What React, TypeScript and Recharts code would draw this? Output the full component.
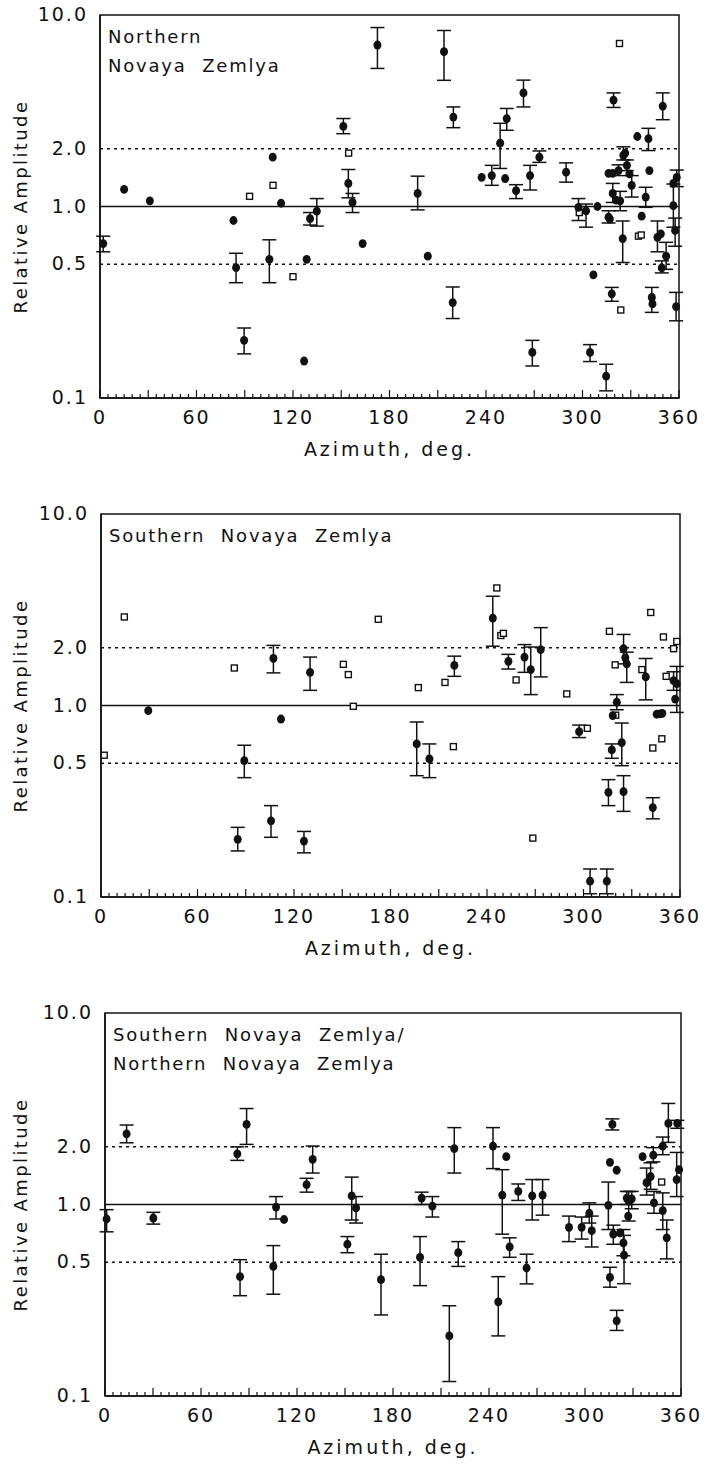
import React from "react";
import {
  ScatterChart,
  Scatter,
  XAxis,
  YAxis,
  ErrorBar,
  ReferenceLine,
  ReferenceArea,
} from "recharts";

// [azimuth, amplitude, lower, upper]
type ErrPoint = [number, number, number, number];
type Point = [number, number];

const AZ_TICKS = Array.from({ length: 73 }, (_, i) => i * 5);
const AMP_TICKS = [0.1, 0.5, 1, 2, 10];

// ---- Northern Novaya Zemlya ----
const northErr: ErrPoint[] = [
  [2, 0.64, 0.58, 0.7],
  [84.6, 0.48, 0.4, 0.57],
  [89.6, 0.2, 0.17, 0.232],
  [105.3, 0.53, 0.4, 0.67],
  [130.6, 0.865, 0.8, 0.93],
  [134.8, 0.945, 0.79, 1.1],
  [151.3, 2.62, 2.4, 2.88],
  [154.4, 1.32, 1.11, 1.56],
  [157, 1.05, 0.93, 1.17],
  [172.5, 6.97, 5.26, 8.6],
  [197.5, 1.17, 0.96, 1.44],
  [213.9, 6.43, 4.56, 8.3],
  [219.7, 2.93, 2.58, 3.31],
  [219.3, 0.315, 0.26, 0.38],
  [243.6, 1.45, 1.29, 1.64],
  [248.8, 2.14, 1.58, 2.72],
  [252.9, 2.88, 2.5, 3.25],
  [258.7, 1.21, 1.1, 1.3],
  [263.3, 3.92, 3.31, 4.57],
  [267.4, 1.45, 1.22, 1.64],
  [273.2, 1.81, 1.7, 1.95],
  [268.8, 0.173, 0.147, 0.2],
  [289.8, 1.51, 1.34, 1.69],
  [297.5, 0.99, 0.845, 1.1],
  [302.2, 0.95, 0.78, 1.03],
  [304.7, 0.173, 0.155, 0.19],
  [314.7, 0.13, 0.109, 0.15],
  [316.2, 0.88, 0.82, 0.95],
  [318.2, 0.35, 0.32, 0.378],
  [319.3, 3.59, 3.29, 3.92],
  [318.8, 1.17, 1.05, 1.32],
  [323.4, 1.07, 0.95, 1.2],
  [322.4, 1.54, 1.45, 1.65],
  [325, 0.68, 0.51, 0.84],
  [325.4, 1.85, 1.75, 2.05],
  [327.6, 1.64, 1.54, 1.75],
  [330.6, 1.29, 1.12, 1.45],
  [339.3, 1.12, 0.99, 1.26],
  [341, 2.26, 1.96, 2.56],
  [343.1, 0.335, 0.28, 0.378],
  [346.6, 0.69, 0.58, 0.84],
  [349.9, 3.34, 2.84, 3.92],
  [349.3, 0.478, 0.45, 0.52],
  [352, 0.55, 0.47, 0.65],
  [358.6, 1.42, 1.27, 1.55],
  [356.5, 1.01, 0.78, 1.31],
  [357.6, 0.75, 0.62, 0.87],
  [358.2, 0.3, 0.253, 0.356],
];
const northDots: Point[] = [
  [15, 1.23], [31, 1.07], [83, 0.845], [107.4, 1.81], [112.6, 1.04],
  [126.9, 0.156], [128.5, 0.53], [163.3, 0.64], [203.8, 0.55], [237.3, 1.42],
  [251.9, 1.4], [309.3, 1.0], [306.8, 0.44], [316.2, 1.49], [318.8, 1.49],
  [320.9, 1.08], [317, 0.86], [326.5, 1.9], [329.2, 1.48], [334.1, 2.32],
  [336.8, 0.89], [341.6, 1.54], [343.5, 0.31], [348.7, 0.72], [356.5, 1.32],
];
const northOpen: Point[] = [
  [93, 1.13], [107.6, 1.29], [120, 0.43], [154.6, 1.9], [298, 0.93],
  [323, 7.1], [323.8, 0.288], [334.8, 0.7], [336.5, 0.71],
];

// ---- Southern Novaya Zemlya ----
const southErr: ErrPoint[] = [
  [85, 0.2, 0.174, 0.231],
  [89.1, 0.515, 0.42, 0.62],
  [105.7, 0.25, 0.205, 0.3],
  [107.2, 1.76, 1.48, 2.06],
  [126.2, 0.196, 0.17, 0.22],
  [130, 1.49, 1.2, 1.79],
  [196.3, 0.63, 0.43, 0.82],
  [204.2, 0.526, 0.42, 0.63],
  [219.7, 1.62, 1.42, 1.81],
  [243.6, 2.86, 2.04, 3.72],
  [253.3, 1.7, 1.55, 1.85],
  [263.3, 1.79, 1.49, 2.08],
  [267.2, 1.54, 1.14, 2.02],
  [273.4, 1.96, 1.41, 2.55],
  [297.3, 0.73, 0.68, 0.79],
  [304.1, 0.121, 0.104, 0.14],
  [314.5, 0.121, 0.104, 0.14],
  [315.5, 0.352, 0.3, 0.41],
  [317.6, 0.586, 0.53, 0.63],
  [320.7, 1.04, 0.95, 1.14],
  [324.9, 1.98, 1.65, 2.35],
  [326.9, 1.65, 1.32, 1.9],
  [323.8, 0.64, 0.485, 0.81],
  [324.9, 0.355, 0.28, 0.43],
  [338.7, 1.41, 1.07, 1.76],
  [343.1, 0.293, 0.256, 0.33],
  [358, 1.3, 0.92, 1.6],
  [356, 1.35, 1.2, 1.5],
];
const southDots: Point[] = [
  [29.4, 0.94], [111.9, 0.85], [318.2, 0.886], [326, 1.78],
  [345.5, 0.9], [347.6, 0.905], [349, 0.91], [357, 1.08],
];
const southOpen: Point[] = [
  [2, 0.55], [14.5, 2.9], [82.9, 1.57], [150.7, 1.64], [153.8, 1.45],
  [156.9, 0.99], [172.4, 2.82], [197.3, 1.24], [213.9, 1.32], [219.1, 0.61],
  [246.1, 4.11], [248.6, 2.32], [250.2, 2.38], [258.1, 1.36], [268.5, 0.203],
  [289.6, 1.15], [302.4, 0.76], [316.1, 2.44], [319.7, 1.63], [320, 0.89],
  [336.3, 1.54], [341.8, 3.06], [343.1, 0.6], [348.7, 0.67], [349.7, 2.28],
  [351.4, 1.42], [356, 1.98], [358, 2.16],
];

// ---- Southern / Northern ratio ----
const ratioErr: ErrPoint[] = [
  [1, 0.84, 0.72, 0.94],
  [13.5, 2.34, 2.1, 2.6],
  [30.2, 0.85, 0.79, 0.91],
  [82.7, 1.84, 1.7, 2.0],
  [88.5, 2.62, 2.06, 3.17],
  [84.4, 0.42, 0.334, 0.515],
  [106.9, 0.97, 0.84, 1.1],
  [105.2, 0.475, 0.34, 0.61],
  [126, 1.27, 1.16, 1.37],
  [129.8, 1.72, 1.46, 2.02],
  [151.5, 0.62, 0.56, 0.68],
  [154.2, 1.11, 0.83, 1.39],
  [156.9, 0.96, 0.8, 1.1],
  [172.5, 0.405, 0.265, 0.55],
  [197.9, 1.08, 1.0, 1.16],
  [196.9, 0.53, 0.377, 0.68],
  [204.6, 0.98, 0.86, 1.1],
  [215.2, 0.206, 0.119, 0.296],
  [218.3, 1.96, 1.46, 2.52],
  [220.8, 0.56, 0.475, 0.64],
  [242.5, 2.02, 1.54, 2.52],
  [245.8, 0.31, 0.206, 0.42],
  [248.3, 1.12, 0.7, 1.52],
  [252.9, 0.6, 0.53, 0.67],
  [258.3, 1.17, 1.05, 1.28],
  [263.5, 0.466, 0.385, 0.55],
  [267, 1.11, 0.83, 1.35],
  [273.5, 1.12, 0.88, 1.35],
  [290, 0.76, 0.64, 0.87],
  [297.9, 0.76, 0.66, 0.86],
  [302.7, 0.9, 0.8, 1.02],
  [304.2, 0.73, 0.6, 0.87],
  [314.6, 0.99, 0.74, 1.31],
  [317.1, 2.62, 2.45, 2.8],
  [315.6, 0.416, 0.37, 0.47],
  [319.8, 0.247, 0.22, 0.28],
  [317.7, 0.7, 0.62, 0.78],
  [324, 0.63, 0.54, 0.74],
  [324.4, 0.544, 0.386, 0.69],
  [326.1, 1.08, 1.0, 1.17],
  [327.3, 1.04, 0.82, 1.17],
  [329.2, 1.07, 0.95, 1.17],
  [338.5, 1.3, 1.12, 1.55],
  [341, 1.4, 1.2, 1.65],
  [342.7, 1.81, 1.67, 1.98],
  [343.1, 1.02, 0.9, 1.17],
  [348.6, 2.02, 1.82, 2.25],
  [348.6, 0.93, 0.74, 1.15],
  [351.1, 0.67, 0.52, 0.83],
  [352.1, 2.65, 2.11, 3.37],
  [357.7, 2.65, 2.5, 2.75],
  [357.3, 1.35, 1.1, 1.87],
];
const ratioDots: Point[] = [
  [111.9, 0.835], [250.8, 1.78], [315.6, 1.66], [319.8, 1.51],
  [322, 0.71], [327, 0.87], [336, 1.78], [358.8, 1.52],
];
const ratioOpen: Point[] = [[347.9, 1.31]];

const INK = "#111";
const FONT = "'DejaVu Sans', sans-serif";

const toErr = (rows: ErrPoint[]) =>
  rows.map(([az, amp, lo, hi]) => ({ az, amp, err: [amp - lo, hi - amp] }));
const toPts = (rows: Point[]) => rows.map(([az, amp]) => ({ az, amp }));

const Dot = (p: any) => <ellipse cx={p.cx} cy={p.cy} rx={4} ry={4.4} fill={INK} />;
const OpenSq = (p: any) => (
  <rect x={p.cx - 3} y={p.cy - 3} width={6} height={6} fill="#fff" stroke={INK} strokeWidth={1.4} />
);

const AzTick = (p: any) => {
  const v = p.payload.value;
  const len = v % 30 === 0 ? 8 : 4;
  return (
    <g>
      <line x1={p.x} x2={p.x} y1={p.y} y2={p.y - len} stroke={INK} strokeWidth={1.2} />
      {v % 60 === 0 && (
        <text x={p.x} y={p.y + 26} textAnchor="middle" fontSize={19} fontFamily={FONT} fill={INK} letterSpacing={2}>
          {v}
        </text>
      )}
    </g>
  );
};

const AmpTick = (p: any) => (
  <text x={p.x} y={p.y + 6} textAnchor="end" fontSize={19} fontFamily={FONT} fill={INK} letterSpacing={2}>
    {Number(p.payload.value).toFixed(1)}
  </text>
);

type PanelProps = {
  top: number;
  left: number;
  right: number;
  title: string[];
  errPts: ErrPoint[];
  dots: Point[];
  open: Point[];
};

function Panel({ top, left, right, title, errPts, dots, open }: PanelProps) {
  return (
    <div style={{ position: "absolute", top, left: 0, width: 708, height: 470 }}>
      <ScatterChart width={708} height={470} margin={{ top: 15, right, bottom: 12, left: 0 }}>
        <XAxis
          dataKey="az"
          type="number"
          domain={[0, 360]}
          ticks={AZ_TICKS}
          interval={0}
          tick={<AzTick />}
          tickLine={false}
          tickSize={0}
          tickMargin={0}
          height={60}
          axisLine={{ stroke: INK, strokeWidth: 1.5 }}
          label={{
            value: "Azimuth, deg.",
            position: "insideBottom",
            offset: 2,
            fontSize: 19,
            fontFamily: FONT,
            fill: INK,
            letterSpacing: 3,
          }}
        />
        <YAxis
          dataKey="amp"
          type="number"
          scale="log"
          domain={[0.1, 10]}
          allowDataOverflow
          ticks={AMP_TICKS}
          interval={0}
          tick={<AmpTick />}
          tickLine={false}
          tickSize={0}
          tickMargin={12}
          width={left}
          axisLine={{ stroke: INK, strokeWidth: 1.5 }}
          label={{
            content: ({ viewBox }: any) => (
              <text
                x={viewBox.x + 20}
                y={viewBox.y + viewBox.height / 2}
                transform={`rotate(-90 ${viewBox.x + 20} ${viewBox.y + viewBox.height / 2})`}
                textAnchor="middle"
                dominantBaseline="central"
                fontSize={18}
                fontFamily={FONT}
                fill={INK}
                letterSpacing={2.4}
              >
                Relative Amplitude
              </text>
            ),
          }}
        />
        <ReferenceArea x1={0} x2={360} y1={0.1} y2={10} fill="none" stroke={INK} strokeWidth={1.5} />
        <ReferenceLine y={1} stroke={INK} strokeWidth={1.6} />
        <ReferenceLine y={2} stroke={INK} strokeWidth={1.5} strokeDasharray="3 4" />
        <ReferenceLine y={0.5} stroke={INK} strokeWidth={1.5} strokeDasharray="3 4" />
        <Scatter data={toPts(open)} shape={<OpenSq />} isAnimationActive={false} />
        <Scatter data={toErr(errPts)} shape={<Dot />} isAnimationActive={false}>
          <ErrorBar dataKey="err" direction="y" width={7} stroke={INK} strokeWidth={1.5} />
        </Scatter>
        <Scatter data={toPts(dots)} shape={<Dot />} isAnimationActive={false} />
      </ScatterChart>
      <div
        style={{
          position: "absolute",
          left: left + 8,
          top: 22,
          fontFamily: FONT,
          fontSize: 18,
          lineHeight: "29px",
          letterSpacing: 1.8,
          wordSpacing: 8,
          color: INK,
        }}
      >
        {title.map((t) => (
          <div key={t}>{t}</div>
        ))}
      </div>
    </div>
  );
}

export default function App() {
  return (
    <div style={{ position: "absolute", left: 0, top: 0, width: 708, height: 1471, background: "#fff" }}>
      <Panel
        top={0}
        left={100}
        right={29}
        title={["Northern", "Novaya Zemlya"]}
        errPts={northErr}
        dots={northDots}
        open={northOpen}
      />
      <Panel
        top={499}
        left={101}
        right={28}
        title={["Southern Novaya Zemlya"]}
        errPts={southErr}
        dots={southDots}
        open={southOpen}
      />
      <Panel
        top={998}
        left={105}
        right={27}
        title={["Southern Novaya Zemlya/", "Northern Novaya Zemlya"]}
        errPts={ratioErr}
        dots={ratioDots}
        open={ratioOpen}
      />
    </div>
  );
}
